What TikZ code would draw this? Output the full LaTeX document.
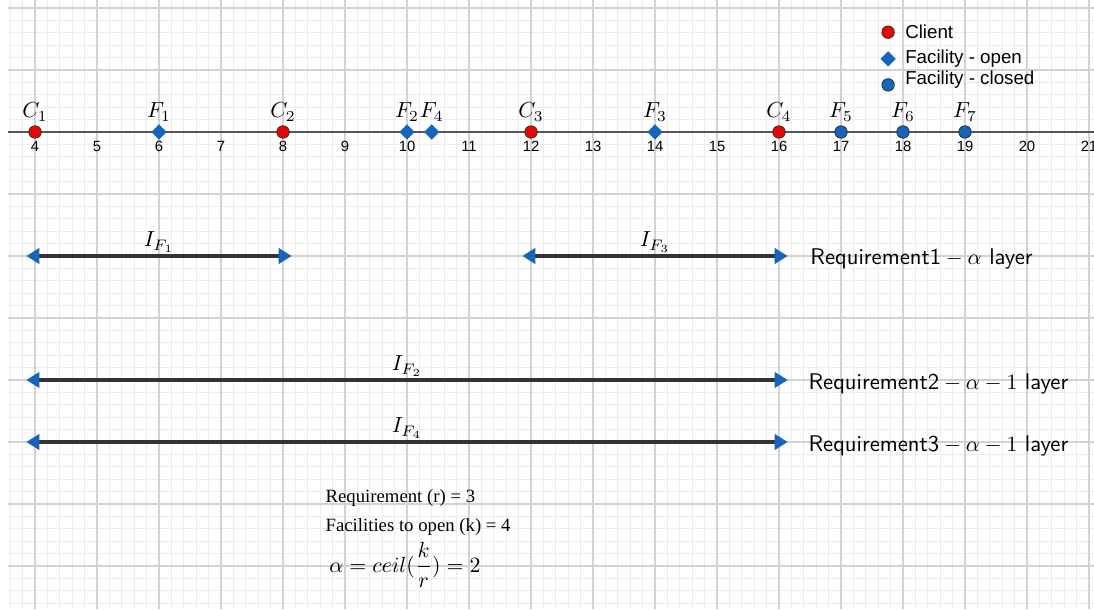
\documentclass[tikz,border=0pt]{standalone}
\usepackage{amsmath}
\usepackage{fontspec}
\newfontfamily\legendfont{Liberation Sans}
\newfontfamily\notefont{Liberation Serif}
\usepackage{tikz}
\usetikzlibrary{positioning, arrows.meta, shapes.geometric}

\definecolor{facblue}{HTML}{1565C0}
\definecolor{clientred}{HTML}{F40000}
\definecolor{edgegray}{HTML}{333333}
\definecolor{axisgray}{HTML}{555555}
\definecolor{majorgrid}{HTML}{D2D2D2}
\definecolor{minorgrid}{HTML}{ECECEC}

\begin{document}
\begin{tikzpicture}[
        >={Triangle[length=6pt, width=7pt, color=facblue]},
        client/.style={draw=edgegray, circle, fill=clientred, minimum size=0.2cm, inner sep=0pt, line width=0.4pt},
        open_fac/.style={diamond, fill=facblue, minimum size=0.25cm, inner sep=0pt},
        closed_fac/.style={draw=edgegray, circle, fill=facblue, minimum size=0.2cm, inner sep=0pt, line width=0.4pt},
        point_label/.style={font=\fontsize{10.4}{12}\selectfont, anchor=base, yshift=0.23cm, inner sep=0pt},
        tick_text/.style={font=\legendfont\fontsize{6.8}{8}\selectfont, anchor=base, inner sep=0pt},
        interval/.style={<->, draw=edgegray, line width=1.6pt, shorten <=-4pt, shorten >=-4pt},
        layer_text/.style={font=\sffamily\fontsize{10.4}{12}\selectfont, anchor=base west, inner sep=0pt},
        legend_text/.style={font=\legendfont\fontsize{8.6}{10}\selectfont, anchor=west, inner sep=0pt},
        note_text/.style={font=\notefont\fontsize{8.6}{10}\selectfont, anchor=base west, inner sep=0pt}
        ]

        % Frame and grid
        \useasboundingbox (3.435,-7.694) rectangle (21.081,2.129);
        \fill[white] (3.435,-7.694) rectangle (21.081,2.129);
        \draw[minorgrid, line width=0.3pt, step=0.2] (3.565,-7.694) grid (21.081,2.129);
        \draw[majorgrid, line width=0.5pt, step=1] (3.565,-7.694) grid (21.081,2.129);

        % Number line
        \coordinate (AxisL) at (3.565,0);
        \coordinate (AxisR) at (21.081,0);
        \draw[axisgray, line width=1pt] (AxisL) -- (AxisR);
        \foreach \n in {4,...,21}
            \node[tick_text] (T\n) at (\n,-0.31) {\n};

        % Clients and facilities
        \node[client] (C1) at (4, 0) {};
        \node[open_fac] (F1) at (6, 0) {};
        \node[client] (C2) at (8, 0) {};
        \node[open_fac] (F2) at (10, 0) {};
        \node[open_fac] (F4) at (10.4, 0) {};
        \node[client] (C3) at (12, 0) {};
        \node[open_fac] (F3) at (14, 0) {};
        \node[client] (C4) at (16, 0) {};
        \node[closed_fac] (F5) at (17, 0) {};
        \node[closed_fac] (F6) at (18, 0) {};
        \node[closed_fac] (F7) at (19, 0) {};

        \node[point_label] (C1l) at (C1) {$C_1$};
        \node[point_label] (F1l) at (F1) {$F_1$};
        \node[point_label] (C2l) at (C2) {$C_2$};
        \node[point_label] (F2l) at (F2) {$F_2$};
        \node[point_label] (F4l) at (F4) {$F_4$};
        \node[point_label] (C3l) at (C3) {$C_3$};
        \node[point_label] (F3l) at (F3) {$F_3$};
        \node[point_label] (C4l) at (C4) {$C_4$};
        \node[point_label] (F5l) at (F5) {$F_5$};
        \node[point_label] (F6l) at (F6) {$F_6$};
        \node[point_label] (F7l) at (F7) {$F_7$};

        % Legend
        \node[client] (KeyC) at (17.76, 1.61) {};
        \node[open_fac] (KeyO) at (17.76, 1.18) {};
        \node[closed_fac] (KeyX) at (17.76, 0.76) {};
        \node[legend_text] (KeyCt) at (18.03, 1.61) {Client};
        \node[legend_text] (KeyOt) at (18.03, 1.19) {Facility - open};
        \node[legend_text] (KeyXt) at (18.03, 0.84) {Facility - closed};

        % Intervals
        \coordinate (I1a) at (4, -2);
        \coordinate (I1b) at (8, -2);
        \coordinate (I3a) at (12, -2);
        \coordinate (I3b) at (16, -2);
        \coordinate (I2a) at (4, -4);
        \coordinate (I2b) at (16, -4);
        \coordinate (I4a) at (4, -5);
        \coordinate (I4b) at (16, -5);

        \draw[interval] (I1a) -- (I1b) node[midway, above=-2.5pt] (IF1) {$I_{F_1}$};
        \draw[interval] (I3a) -- (I3b) node[midway, above=-2.5pt] (IF3) {$I_{F_3}$};
        \draw[interval] (I2a) -- (I2b) node[midway, above=-2.5pt] (IF2) {$I_{F_2}$};
        \draw[interval] (I4a) -- (I4b) node[midway, above=-2.5pt] (IF4) {$I_{F_4}$};

        % Layers
        \node[layer_text] (Layer1) at (16.5, -2.145) {Requirement1${}-\alpha$ layer};
        \node[layer_text] (Layer2) at (16.47, -4.16) {Requirement2${}-\alpha-1$ layer};
        \node[layer_text] (Layer3) at (16.47, -5.15) {Requirement3${}-\alpha-1$ layer};

        % Parameters
        \node[note_text] (ReqR) at (8.68, -5.98) {Requirement (r) = 3};
        \node[note_text] (OpenK) at (8.68, -6.45) {Facilities to open (k) = 4};
        \node[anchor=base west, inner sep=0pt] (Alpha) at (8.74, -7.10) {$\alpha = ceil(\dfrac{k}{r}) = 2$};

    \end{tikzpicture}
\end{document}
